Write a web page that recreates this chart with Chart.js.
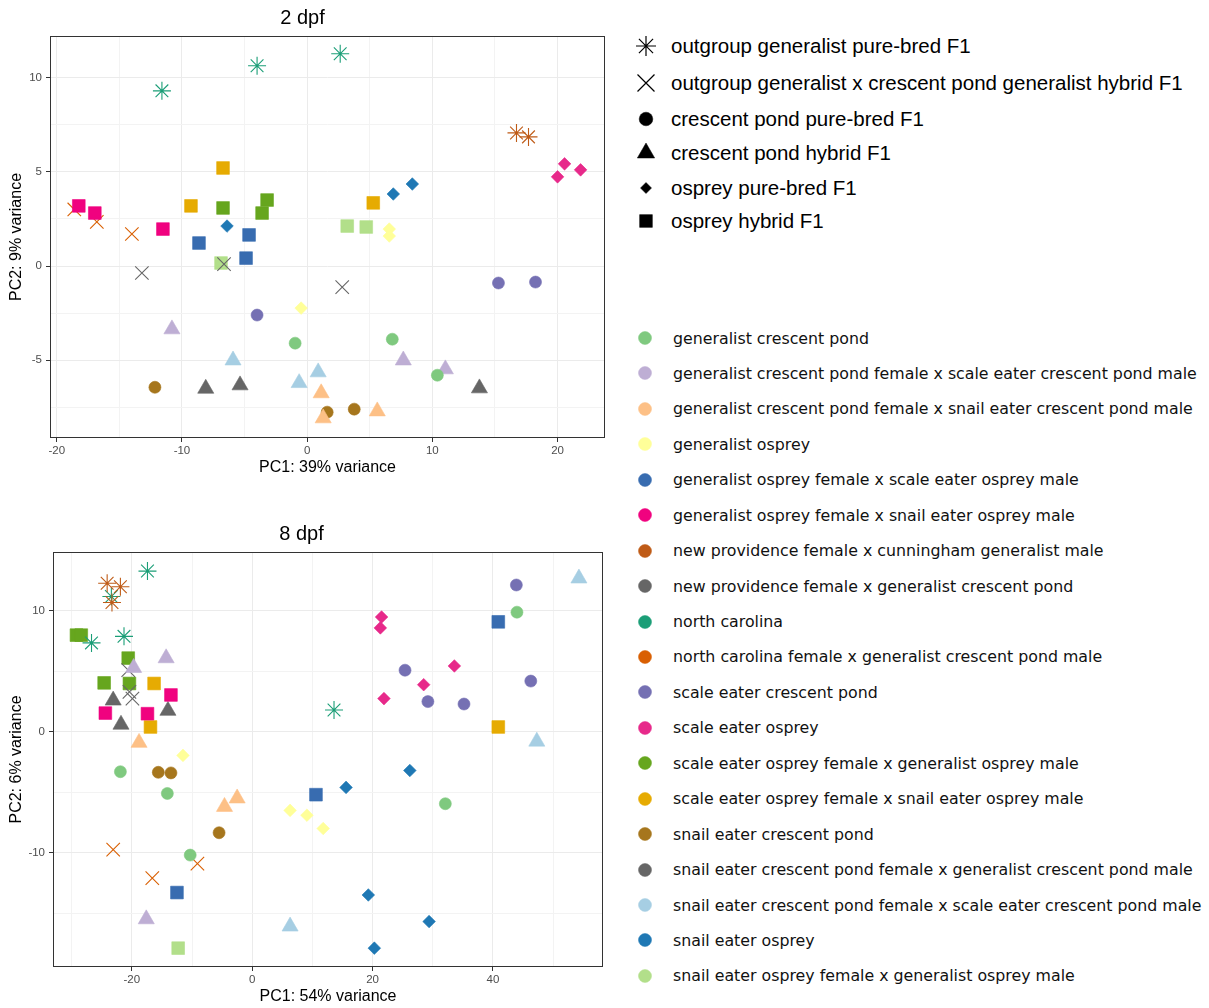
<!DOCTYPE html>
<html>
<head>
<meta charset="utf-8">
<script src="https://cdn.jsdelivr.net/npm/chart.js@4.4.1/dist/chart.umd.min.js"></script>
<style>
  html, body { margin: 0; padding: 0; background: #ffffff; }
  body { width: 1209px; height: 1008px; position: relative; overflow: hidden; font-family: "Liberation Sans", Arial, sans-serif; }
  .wrap { position: absolute; left: 0; width: 610px; }
  #w1 { top: 0; height: 490px; }
  #w2 { top: 516px; height: 492px; }
  .lrow { position: absolute; display: flex; align-items: center; white-space: nowrap; transform: translateY(-50%); }
  .lrow canvas { display: block; }
  .shapeText { font-family: "Liberation Sans", Arial, sans-serif; font-size: 20.5px; color: #000; }
  .colorText { font-family: "DejaVu Sans", Verdana, sans-serif; font-size: 15.8px; color: #111; }
</style>
</head>
<body>
<div class="wrap" id="w1"><canvas id="c1" width="610" height="490"></canvas></div>
<div class="wrap" id="w2"><canvas id="c2" width="610" height="492"></canvas></div>
<div id="legend"></div>
<script>
// ---------- categories ----------
const groupNames = [
  "generalist crescent pond",
  "generalist crescent pond female x scale eater crescent pond male",
  "generalist crescent pond female x snail eater crescent pond male",
  "generalist osprey",
  "generalist osprey female x scale eater osprey male",
  "generalist osprey female x snail eater osprey male",
  "new providence female x cunningham generalist male",
  "new providence female x generalist crescent pond",
  "north carolina",
  "north carolina female x generalist crescent pond male",
  "scale eater crescent pond",
  "scale eater osprey",
  "scale eater osprey female x generalist osprey male",
  "scale eater osprey female x snail eater osprey male",
  "snail eater crescent pond",
  "snail eater crescent pond female x generalist crescent pond male",
  "snail eater crescent pond female x scale eater crescent pond male",
  "snail eater osprey",
  "snail eater osprey female x generalist osprey male"
];
const groupColors = [
  "#7FC97F", "#BEAED4", "#FDC086", "#FFFF99", "#386CB0", "#F0027F", "#BF5B17", "#666666",
  "#1B9E77", "#D95F02", "#7570B3", "#E7298A", "#66A61E", "#E6AB02", "#A6761D", "#666666",
  "#A6CEE3", "#1F78B4", "#B2DF8A"
];
// index into shapeNames for each group
const groupShape = [2, 3, 3, 4, 5, 5, 0, 1, 0, 1, 2, 4, 5, 5, 2, 3, 3, 4, 5];

const shapeNames = [
  "outgroup generalist pure-bred F1",
  "outgroup generalist x crescent pond generalist hybrid F1",
  "crescent pond pure-bred F1",
  "crescent pond hybrid F1",
  "osprey pure-bred F1",
  "osprey hybrid F1"
];
const shapeStyles = ["star", "crossRot", "circle", "triangle", "rectRot", "rect"];

// ---------- 2 dpf data ----------
const pc1_2dpf = [
  -11.6, -4.0, 2.64,
  16.72, 17.68,
  -18.6, -16.8, -14.0,
  -13.2, -6.64, 2.8,
  -0.96, 6.8, 10.4,
  -4.0, 15.28, 18.24,
  -12.16, 1.6, 3.76,
  -10.8, 7.68, 11.04,
  -5.92, -0.64, 0.88,
  -8.1, -5.36, 13.76,
  1.12, 1.28, 5.6,
  -0.48, 6.56, 6.56,
  -6.4, 6.88, 8.4,
  20.0, 20.56, 21.84,
  -18.24, -16.96, -11.52,
  -9.28, -6.72, 5.28,
  -6.72, -3.6, -3.2,
  -8.64, -4.64, -4.88,
  -6.88, 3.2, 4.72
];
const pc2_2dpf = [
  9.29, 10.62, 11.26,
  7.06, 6.85,
  3.0, 2.34, 1.7,
  -0.37, 0.1, -1.12,
  -4.09, -3.88, -5.79,
  -2.6, -0.9, -0.85,
  -6.43, -7.75, -7.59,
  -3.35, -5.0, -5.47,
  -5.0, -6.2, -5.63,
  -6.5, -6.32, -6.48,
  -6.74, -8.07, -7.7,
  -2.23, 1.96, 1.59,
  2.12, 3.82, 4.35,
  4.73, 5.42, 5.1,
  3.19, 2.81, 1.96,
  3.19, 5.2, 3.35,
  3.08, 2.81, 3.5,
  1.22, 1.65, 0.42,
  0.16, 2.12, 2.07
];
const grp_2dpf = [
  8, 8, 8,
  6, 6,
  9, 9, 9,
  7, 7, 7,
  0, 0, 0,
  10, 10, 10,
  14, 14, 14,
  1, 1, 1,
  16, 16, 16,
  15, 15, 15,
  2, 2, 2,
  3, 3, 3,
  17, 17, 17,
  11, 11, 11,
  5, 5, 5,
  13, 13, 13,
  12, 12, 12,
  4, 4, 4,
  18, 18, 18
];

// ---------- 8 dpf data ----------
const pc1_8dpf = [
  -17.4, -23.4, -26.7, -21.3, 13.6,
  -24.1, -21.9, -23.3,
  -23.1, -16.6, -9.1,
  -20.6, -20.4, -19.9,
  -21.9, -14.1, -10.3, 32.1, 44.0,
  -15.6, -13.5, -5.5,
  43.9, 25.4, 29.2, 35.2, 46.3,
  -19.7, -14.3, -17.6,
  -23.1, -21.8, -14.0,
  -18.8, -4.6, -2.5,
  6.3, 47.3, 54.3,
  -11.5, 6.3, 9.1, 11.8,
  21.5, 21.3, 21.9, 28.5, 33.6,
  26.2, 15.6, 19.3, 20.3, 29.4,
  -29.2, -28.4, -20.6, -24.6, -20.4,
  -24.4, -17.4, -13.5,
  -16.3, -16.9, 40.9,
  -12.5, 10.6, 40.9,
  -12.3
];
const pc2_8dpf = [
  13.3, 11.2, 7.36, 7.9, 1.8,
  12.3, 12.0, 10.7,
  -9.75, -12.1, -10.9,
  5.1, 3.3, 2.75,
  -3.3, -5.1, -10.2, -5.95, 9.9,
  -3.35, -3.4, -8.35,
  12.15, 5.1, 2.5, 2.3, 4.2,
  5.3, 6.1, -15.5,
  2.6, 0.6, 1.75,
  -0.9, -6.2, -5.5,
  -16.1, -0.8, 12.7,
  -1.95, -6.5, -6.9, -8.0,
  9.5, 8.6, 2.75, 3.9, 5.45,
  -3.2, -4.6, -13.5, -17.9, -15.7,
  8.0, 8.0, 6.1, 4.05, 4.0,
  1.55, 1.5, 3.05,
  4.0, 0.4, 0.4,
  -13.3, -5.2, 9.1,
  -17.9
];
const grp_8dpf = [
  8, 8, 8, 8, 8,
  6, 6, 6,
  9, 9, 9,
  7, 7, 7,
  0, 0, 0, 0, 0,
  14, 14, 14,
  10, 10, 10, 10, 10,
  1, 1, 1,
  15, 15, 15,
  2, 2, 2,
  16, 16, 16,
  3, 3, 3, 3,
  11, 11, 11, 11, 11,
  17, 17, 17, 17, 17,
  12, 12, 12, 12, 12,
  5, 5, 5,
  13, 13, 13,
  4, 4, 4,
  18
];

// ---------- axes ----------
const titles = ["2 dpf", "8 dpf"];
const xTitles = ["PC1: 39% variance", "PC1: 54% variance"];
const yTitles = ["PC2: 9% variance", "PC2: 6% variance"];
const xRange_2dpf = [-20.54, 23.79], yRange_2dpf = [-9.12, 12.2];
const xRange_8dpf = [-33.1, 58.3],  yRange_8dpf = [-19.46, 14.88];
const xSteps_2dpf = [5, 10], ySteps_2dpf = [2.5, 5];    // [minor, major]
const xSteps_8dpf = [10, 20], ySteps_8dpf = [5, 10];

// ---------- layout constants ----------
const shapeLegendY = [46, 83, 119, 153, 188, 221];
const colorLegendTop = 338, colorLegendStep = 35.44;

// ---------- rendering ----------
const shapeRadius = { star: 9, crossRot: 9.5, circle: 6, triangle: 9.3, rectRot: 6.3, rect: 9 };

function isMajor(v, major) {
  const r = v / major;
  return Math.abs(r - Math.round(r)) < 1e-6;
}

function buildDatasets(pc1, pc2, grp) {
  return groupNames.map((name, g) => {
    const pts = [];
    grp.forEach((gg, i) => { if (gg === g) pts.push({ x: pc1[i], y: pc2[i] }); });
    const style = shapeStyles[groupShape[g]];
    const line = style === "star" || style === "crossRot";
    return {
      label: name,
      data: pts,
      showLine: false,
      pointStyle: style,
      pointRadius: shapeRadius[style],
      pointBackgroundColor: groupColors[g],
      pointBorderColor: groupColors[g],
      pointBorderWidth: line ? 1.1 : 0.6
    };
  });
}

const panelBorder = {
  id: "panelBorder",
  afterDraw(chart) {
    const { ctx, chartArea: a } = chart;
    ctx.save();
    ctx.strokeStyle = "#333333";
    ctx.lineWidth = 1;
    ctx.strokeRect(Math.round(a.left) + 0.5, Math.round(a.top) + 0.5,
                   Math.round(a.right - a.left) - 1, Math.round(a.bottom - a.top) - 1);
    ctx.restore();
  }
};

function axis(range, steps, titleText, isX, fixedSize, titlePad) {
  return {
    type: "linear",
    position: isX ? "bottom" : "left",
    min: range[0],
    max: range[1],
    afterFit(scale) {
      if (isX) { scale.height = fixedSize; scale.paddingLeft = 0; scale.paddingRight = 0; }
      else { scale.width = fixedSize; scale.paddingTop = 0; scale.paddingBottom = 0; }
    },
    ticks: {
      stepSize: steps[0],
      includeBounds: false,
      autoSkip: false,
      maxRotation: 0,
      padding: isX ? 2 : 4,
      color: "#4D4D4D",
      font: { family: "'Liberation Sans', Arial, sans-serif", size: 11.5 },
      callback: (v) => isMajor(v, steps[1]) ? String(Math.round(v)) : ""
    },
    grid: {
      color: (c) => (c.tick && isMajor(c.tick.value, steps[1])) ? "#EBEBEB" : "#F3F3F3",
      lineWidth: 1,
      tickColor: (c) => (c.tick && isMajor(c.tick.value, steps[1])) ? "#333333" : "rgba(0,0,0,0)",
      tickLength: 4,
      drawTicks: true
    },
    border: { display: false },
    title: {
      display: true,
      text: titleText,
      color: "#000000",
      font: { family: "'Liberation Sans', Arial, sans-serif", size: 16 },
      padding: titlePad
    }
  };
}

function makeChart(id, title, pc1, pc2, grp, xr, yr, xs, ys, xt, yt, yW, xH, padR, xTitlePad) {
  return new Chart(document.getElementById(id), {
    type: "scatter",
    data: { datasets: buildDatasets(pc1, pc2, grp) },
    options: {
      responsive: false,
      animation: false,
      events: [],
      layout: { autoPadding: false, padding: { left: 0, top: 0, bottom: 0, right: padR } },
      plugins: {
        legend: { display: false },
        tooltip: { enabled: false },
        title: {
          display: true,
          text: title,
          color: "#000000",
          font: { family: "'Liberation Sans', Arial, sans-serif", size: 20, weight: "normal", lineHeight: 1.2 },
          padding: { top: 6, bottom: 6 }
        }
      },
      scales: {
        x: axis(xr, xs, xt, true, xH, { top: 0, bottom: xTitlePad }),
        y: axis(yr, ys, yt, false, yW, { top: 7, bottom: 0 })
      }
    },
    plugins: [panelBorder]
  });
}

makeChart("c1", titles[0], pc1_2dpf, pc2_2dpf, grp_2dpf, xRange_2dpf, yRange_2dpf,
          xSteps_2dpf, ySteps_2dpf, xTitles[0], yTitles[0], 50, 52, 5, 12.4);
makeChart("c2", titles[1], pc1_8dpf, pc2_8dpf, grp_8dpf, xRange_8dpf, yRange_8dpf,
          xSteps_8dpf, ySteps_8dpf, xTitles[1], yTitles[1], 53, 41, 7, 1.4);

// ---------- legends ----------
const legendSymbolRadius = { star: 10, crossRot: 12, circle: 6.8, triangle: 10, rectRot: 5.5, rect: 9 };
const legend = document.getElementById("legend");

function symbolCanvas(style, color, r, lw) {
  const cv = document.createElement("canvas");
  cv.width = 30; cv.height = 30;
  const ctx = cv.getContext("2d");
  ctx.fillStyle = color;
  ctx.strokeStyle = color;
  ctx.lineWidth = lw;
  Chart.helpers.drawPoint(ctx, { pointStyle: style, radius: r, rotation: 0, borderWidth: lw }, 15, 15);
  return cv;
}

shapeNames.forEach((name, i) => {
  const style = shapeStyles[i];
  const line = style === "star" || style === "crossRot";
  const row = document.createElement("div");
  row.className = "lrow";
  row.style.left = (646 - 15) + "px";
  row.style.top = shapeLegendY[i] + "px";
  const cv = symbolCanvas(style, "#000000", legendSymbolRadius[style], line ? 1.2 : 0.5);
  row.appendChild(cv);
  const sp = document.createElement("span");
  sp.className = "shapeText";
  sp.style.marginLeft = "10px";
  sp.textContent = name;
  row.appendChild(sp);
  legend.appendChild(row);
});

groupNames.forEach((name, g) => {
  const row = document.createElement("div");
  row.className = "lrow";
  row.style.left = (645 - 15) + "px";
  row.style.top = (colorLegendTop + g * colorLegendStep) + "px";
  row.appendChild(symbolCanvas("circle", groupColors[g], 6.5, 0.5));
  const sp = document.createElement("span");
  sp.className = "colorText";
  sp.style.marginLeft = "13px";
  sp.textContent = name;
  row.appendChild(sp);
  legend.appendChild(row);
});
</script>
</body>
</html>
